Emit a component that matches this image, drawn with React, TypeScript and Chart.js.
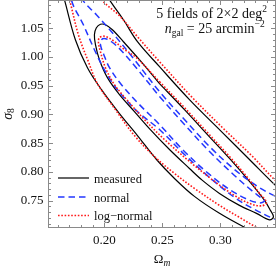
import React, { useEffect, useRef } from 'react';
import { Chart, registerables } from 'chart.js';

Chart.register(...registerables);

// ---- axis ranges & ticks ----
const X_MIN = 0.1515;
const X_MAX = 0.348;
const Y_MIN = 0.7025;
const Y_MAX = 1.0992;
const xTickValues = [0.2, 0.25, 0.3];
const yTickValues = [0.75, 0.8, 0.85, 0.9, 0.95, 1.0, 1.05];
const legendLabels = ['measured', 'normal', 'log\u2212normal'];

// ---- contours (Omega_m, sigma_8) ----
// measured, inner contour
const measuredInnerOm = [0.2476, 0.2691, 0.2889, 0.3079, 0.3251, 0.3381, 0.3432, 0.3458, 0.3424, 0.3312, 0.3165, 0.2993, 0.2846, 0.2734, 0.2562, 0.2389, 0.226, 0.2131, 0.2027, 0.1958, 0.1924, 0.1915, 0.1932, 0.1967, 0.201, 0.207, 0.2165, 0.2303, 0.2476];
const measuredInnerS8 = [0.9537, 0.9085, 0.8651, 0.8235, 0.7835, 0.7505, 0.7332, 0.7219, 0.7167, 0.728, 0.7419, 0.7627, 0.7853, 0.8061, 0.8391, 0.8755, 0.9051, 0.9346, 0.9641, 0.9953, 1.0214, 1.0387, 1.0509, 1.057, 1.0561, 1.0474, 1.0266, 0.9953, 0.9537];
// measured, outer contour
const measuredOuterOm = [0.1596, 0.1657, 0.1751, 0.1855, 0.1976, 0.2131, 0.2286, 0.245, 0.2605, 0.2777, 0.2993, 0.3208, 0.3467, 0.3726, 0.3855, 0.3682, 0.3493, 0.3251, 0.301, 0.2734, 0.2476, 0.2286, 0.2165, 0.2045, 0.1915, 0.1743, 0.1596];
const measuredOuterS8 = [1.1429, 1.0995, 1.0301, 0.9814, 0.9432, 0.9016, 0.8634, 0.8217, 0.7887, 0.7575, 0.728, 0.7037, 0.6776, 0.6742, 0.7089, 0.7384, 0.7731, 0.8217, 0.8703, 0.9259, 0.9832, 1.0266, 1.0648, 1.0995, 1.1429, 1.1689, 1.1429];
// normal, inner contour
const normalInnerOm = [0.2476, 0.2691, 0.2907, 0.3122, 0.3269, 0.3346, 0.3381, 0.3338, 0.3234, 0.3079, 0.2907, 0.2691, 0.2476, 0.2303, 0.2148, 0.2045, 0.1993, 0.1967, 0.1976, 0.201, 0.2062, 0.2148, 0.2303, 0.2476];
const normalInnerS8 = [0.9311, 0.8825, 0.8356, 0.7939, 0.7679, 0.7558, 0.7497, 0.7462, 0.7523, 0.7696, 0.7957, 0.8356, 0.8825, 0.9172, 0.9519, 0.9814, 1.0058, 1.0214, 1.0301, 1.0318, 1.0266, 1.011, 0.9745, 0.9311];
// normal, outer contour
const normalOuterOm = [0.1726, 0.1717, 0.182, 0.1915, 0.201, 0.2113, 0.2286, 0.2476, 0.2691, 0.2907, 0.3122, 0.3294, 0.3476, 0.3613, 0.3682, 0.3596, 0.3476, 0.332, 0.3122, 0.2907, 0.2691, 0.2476, 0.226, 0.207, 0.1932, 0.1812, 0.1726];
const normalOuterS8 = [1.1342, 1.0995, 1.0561, 1.0127, 0.9745, 0.9432, 0.9051, 0.8738, 0.8304, 0.7905, 0.7558, 0.7349, 0.7176, 0.7106, 0.7314, 0.7471, 0.7575, 0.7748, 0.8044, 0.8443, 0.8912, 0.9398, 0.9953, 1.0422, 1.0735, 1.0995, 1.1342];
// log-normal, inner contour
const lognormalInnerOm = [0.2476, 0.2691, 0.2889, 0.3079, 0.3234, 0.3338, 0.3398, 0.3355, 0.3251, 0.3122, 0.295, 0.2734, 0.2519, 0.2346, 0.22, 0.2088, 0.201, 0.1967, 0.195, 0.1958, 0.2001, 0.2079, 0.2165, 0.2277, 0.2476];
const lognormalInnerS8 = [0.9571, 0.912, 0.8686, 0.8269, 0.7905, 0.7627, 0.7471, 0.741, 0.7453, 0.7592, 0.7835, 0.8183, 0.8564, 0.8912, 0.9242, 0.9519, 0.9814, 1.0092, 1.0249, 1.0335, 1.0361, 1.0283, 1.0144, 0.9988, 0.9571];
// log-normal, outer contour
const lognormalOuterOm = [0.1631, 0.17, 0.1777, 0.1863, 0.1941, 0.2096, 0.226, 0.2432, 0.2605, 0.2777, 0.2993, 0.3165, 0.3312, 0.3553, 0.3812, 0.3838, 0.3682, 0.3493, 0.3269, 0.3027, 0.2751, 0.2476, 0.2286, 0.2131, 0.1976, 0.1855, 0.1717, 0.1631];
const lognormalOuterS8 = [1.1429, 1.0995, 1.0387, 0.9919, 0.9537, 0.9085, 0.8634, 0.8269, 0.7974, 0.7714, 0.7419, 0.721, 0.7037, 0.6794, 0.6915, 0.7349, 0.7523, 0.7818, 0.8287, 0.8755, 0.9311, 0.9919, 1.0353, 1.0717, 1.0995, 1.1342, 1.1551, 1.1429];

// ---- styles ----
const SERIF = "'Liberation Serif', 'Times New Roman', serif";
const TEXT = '#111111';
const FRAME = '#8a8a8a';
const BLACK = '#000000';
const BLUE = 'rgb(35,55,255)';
const RED = 'rgb(255,25,25)';
const styles = [
  { color: BLACK, width: 1.2, dash: [] as number[] },
  { color: BLUE, width: 1.5, dash: [6.5, 4] },
  { color: RED, width: 1.6, dash: [1.6, 1.7] },
];

const pts = (xs: number[], ys: number[]) => xs.map((x, i) => ({ x, y: ys[i] }));

type Run = { t: string; font: string; dy?: number };
function runsWidth(ctx: CanvasRenderingContext2D, runs: Run[]) {
  let w = 0;
  for (const r of runs) { ctx.font = r.font; w += ctx.measureText(r.t).width; }
  return w;
}
function drawRuns(ctx: CanvasRenderingContext2D, runs: Run[], x: number, y: number) {
  let cx = x;
  for (const r of runs) {
    ctx.font = r.font;
    ctx.fillText(r.t, cx, y + (r.dy || 0));
    cx += ctx.measureText(r.t).width;
  }
}

const decorPlugin = {
  id: 'decor',
  afterDraw(chart: any) {
    const { ctx, chartArea: a } = chart;
    const xs = chart.scales.x;
    const ys = chart.scales.y;
    ctx.save();
    ctx.setLineDash([]);
    // frame
    ctx.strokeStyle = FRAME;
    ctx.lineWidth = 1;
    const L = a.left + 0.5, R = a.right - 0.5, T = a.top + 0.5, B = a.bottom - 0.5;
    ctx.strokeRect(L, T, R - L, B - T);
    // ticks on all sides
    const MAJOR = 4.5, MINOR = 2.5;
    ctx.beginPath();
    for (let k = Math.ceil(X_MIN * 100); k <= Math.floor(X_MAX * 100); k++) {
      const len = k % 5 === 0 ? MAJOR : MINOR;
      const px = Math.round(xs.getPixelForValue(k / 100)) + 0.5;
      ctx.moveTo(px, B); ctx.lineTo(px, B - len);
      ctx.moveTo(px, T); ctx.lineTo(px, T + len);
    }
    for (let k = Math.ceil(Y_MIN * 100); k <= Math.floor(Y_MAX * 100); k++) {
      const len = k % 5 === 0 ? MAJOR : MINOR;
      const py = Math.round(ys.getPixelForValue(k / 100)) + 0.5;
      ctx.moveTo(L, py); ctx.lineTo(L + len, py);
      ctx.moveTo(R, py); ctx.lineTo(R - len, py);
    }
    ctx.stroke();

    ctx.fillStyle = TEXT;
    ctx.textAlign = 'left';
    ctx.textBaseline = 'alphabetic';

    // axis titles
    const xt: Run[] = [
      { t: '\u03A9', font: `13px ${SERIF}` },
      { t: 'm', font: `italic 9.5px ${SERIF}`, dy: 3 },
    ];
    const xw = runsWidth(ctx, xt);
    drawRuns(ctx, xt, (a.left + a.right) / 2 - xw / 2, 263);

    const yt: Run[] = [
      { t: '\u03C3', font: `italic 14px ${SERIF}` },
      { t: '8', font: `9.5px ${SERIF}`, dy: 2.5 },
    ];
    const yw = runsWidth(ctx, yt);
    ctx.save();
    ctx.translate(11.5, 114);
    ctx.rotate(-Math.PI / 2);
    drawRuns(ctx, yt, -yw / 2, 0);
    ctx.restore();

    // annotation
    drawRuns(ctx, [
      { t: '5 fields of 2\u00D72 deg', font: `14px ${SERIF}` },
      { t: '2', font: `9.5px ${SERIF}`, dy: -6 },
    ], 156.3, 17.5);
    drawRuns(ctx, [
      { t: 'n', font: `italic 14px ${SERIF}` },
      { t: 'gal', font: `9.5px ${SERIF}`, dy: 3 },
      { t: ' = 25 arcmin', font: `14px ${SERIF}` },
      { t: '\u22122', font: `9.5px ${SERIF}`, dy: -6 },
    ], 164.7, 33);

    // legend
    const rows = [178, 197, 215.5];
    legendLabels.forEach((label, i) => {
      const s = styles[i];
      ctx.strokeStyle = s.color;
      ctx.lineWidth = s.width;
      ctx.setLineDash(s.dash);
      ctx.beginPath();
      ctx.moveTo(58, rows[i]);
      ctx.lineTo(89, rows[i]);
      ctx.stroke();
      ctx.setLineDash([]);
      ctx.fillStyle = TEXT;
      ctx.font = `12.5px ${SERIF}`;
      ctx.fillText(label, 94, rows[i] + 4.5);
    });
    ctx.restore();
  },
};

export default function App() {
  const ref = useRef<HTMLCanvasElement | null>(null);
  useEffect(() => {
    if (!ref.current) return;
    const mk = (data: any[], si: number, order: number) => ({
      data,
      showLine: true,
      borderColor: styles[si].color,
      borderWidth: styles[si].width,
      borderDash: styles[si].dash,
      pointRadius: 0,
      tension: 0.35,
      fill: false,
      order,
    });
    const chart = new Chart(ref.current, {
      type: 'scatter',
      data: {
        datasets: [
          mk(pts(measuredOuterOm, measuredOuterS8), 0, 3),
          mk(pts(measuredInnerOm, measuredInnerS8), 0, 3),
          mk(pts(normalOuterOm, normalOuterS8), 1, 2),
          mk(pts(normalInnerOm, normalInnerS8), 1, 2),
          mk(pts(lognormalOuterOm, lognormalOuterS8), 2, 1),
          mk(pts(lognormalInnerOm, lognormalInnerS8), 2, 1),
        ],
      },
      options: {
        responsive: false,
        animation: false,
        devicePixelRatio: 1,
        layout: { padding: { left: 0, right: 1, top: 0, bottom: 0 } },
        plugins: { legend: { display: false }, tooltip: { enabled: false } },
        elements: { point: { radius: 0 }, line: { capBezierPoints: false } },
        scales: {
          x: {
            type: 'linear',
            min: X_MIN,
            max: X_MAX,
            grid: { display: false, drawTicks: false },
            border: { display: false },
            ticks: {
              font: { family: SERIF, size: 13 },
              color: TEXT,
              padding: 5,
              autoSkip: false,
              maxRotation: 0,
              callback: (v: any) => Number(v).toFixed(2),
            },
            afterBuildTicks: (s: any) => { s.ticks = xTickValues.map((v) => ({ value: v })); },
            afterFit: (s: any) => { s.height = 40; s.paddingLeft = 0; s.paddingRight = 0; },
          },
          y: {
            type: 'linear',
            min: Y_MIN,
            max: Y_MAX,
            grid: { display: false, drawTicks: false },
            border: { display: false },
            ticks: {
              font: { family: SERIF, size: 13 },
              color: TEXT,
              padding: 4.5,
              autoSkip: false,
              callback: (v: any) => Number(v).toFixed(2),
            },
            afterBuildTicks: (s: any) => { s.ticks = yTickValues.map((v) => ({ value: v })); },
            afterFit: (s: any) => { s.width = 48; s.paddingTop = 0; s.paddingBottom = 0; },
          },
        },
      } as any,
      plugins: [decorPlugin],
    });
    return () => chart.destroy();
  }, []);
  return (
    <div style={{ position: 'absolute', left: 0, top: 0, width: 277, height: 268, background: '#fff' }}>
      <canvas ref={ref} width={277} height={268} style={{ display: 'block' }} />
    </div>
  );
}
